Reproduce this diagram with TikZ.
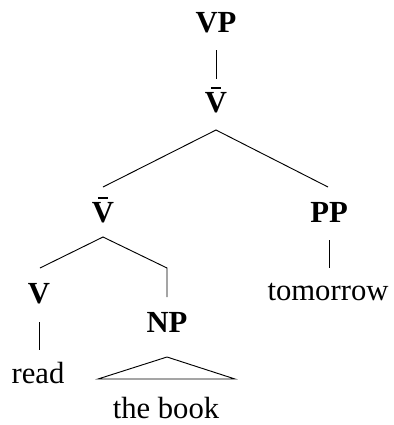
\documentclass[tikz,border=0pt]{standalone}
\usepackage{fontspec}
\setmainfont{Liberation Serif}
\newcommand{\myVbar}{\ooalign{V\cr\hidewidth\raisebox{0.74em}{\rule{0.34em}{0.075em}}\hidewidth\cr}}
\begin{document}
\begin{tikzpicture}[x=0.75pt,y=-0.75pt,
  lbl/.style={anchor=base,inner sep=0pt,font=\fontsize{23}{27}\selectfont},
  cat/.style={lbl,font=\fontsize{23}{27}\selectfont\bfseries},
  edge/.style={line width=0.7pt,black}]
\useasboundingbox (0,0) rectangle (393,425);
% categories
\node[cat] (vp) at (216,32) {VP};
\node[cat] (vbt) at (216,112) {\myVbar};
\node[cat] (vbm) at (103,222) {\myVbar};
\node[cat] (pp) at (329,222) {PP};
\node[cat] (v) at (39,303) {V};
\node[cat] (np) at (167,332) {NP};
\node[lbl] (read) at (38,383) {read};
\node[lbl] (tom) at (328,300) {tomorrow};
\node[lbl] (book) at (166,418) {the book};
% connector points
\coordinate (vpB) at (216,50);
\coordinate (vbtT) at (216,79);
\coordinate (vbtB) at (216,130);
\coordinate (vbmT) at (103,187);
\coordinate (ppT) at (328,187);
\coordinate (vbmB) at (103,237);
\coordinate (vT) at (40,268);
\coordinate (npK) at (167,268);
\coordinate (npT) at (167,297);
\coordinate (vB) at (39,322);
\coordinate (readT) at (39,350);
\coordinate (ppB) at (329,240);
\coordinate (tomT) at (329,268);
\coordinate (triA) at (167,357);
\coordinate (triL) at (98,379);
\coordinate (triR) at (235,379);
% edges
\draw[edge] (vpB) -- (vbtT);
\draw[edge] (vbmT) -- (vbtB) -- (ppT);
\draw[edge] (vT) -- (vbmB) -- (npK) -- (npT);
\draw[edge] (vB) -- (readT);
\draw[edge] (ppB) -- (tomT);
\draw[edge] (triA) -- (triL) -- (triR) -- cycle;
\end{tikzpicture}
\end{document}
